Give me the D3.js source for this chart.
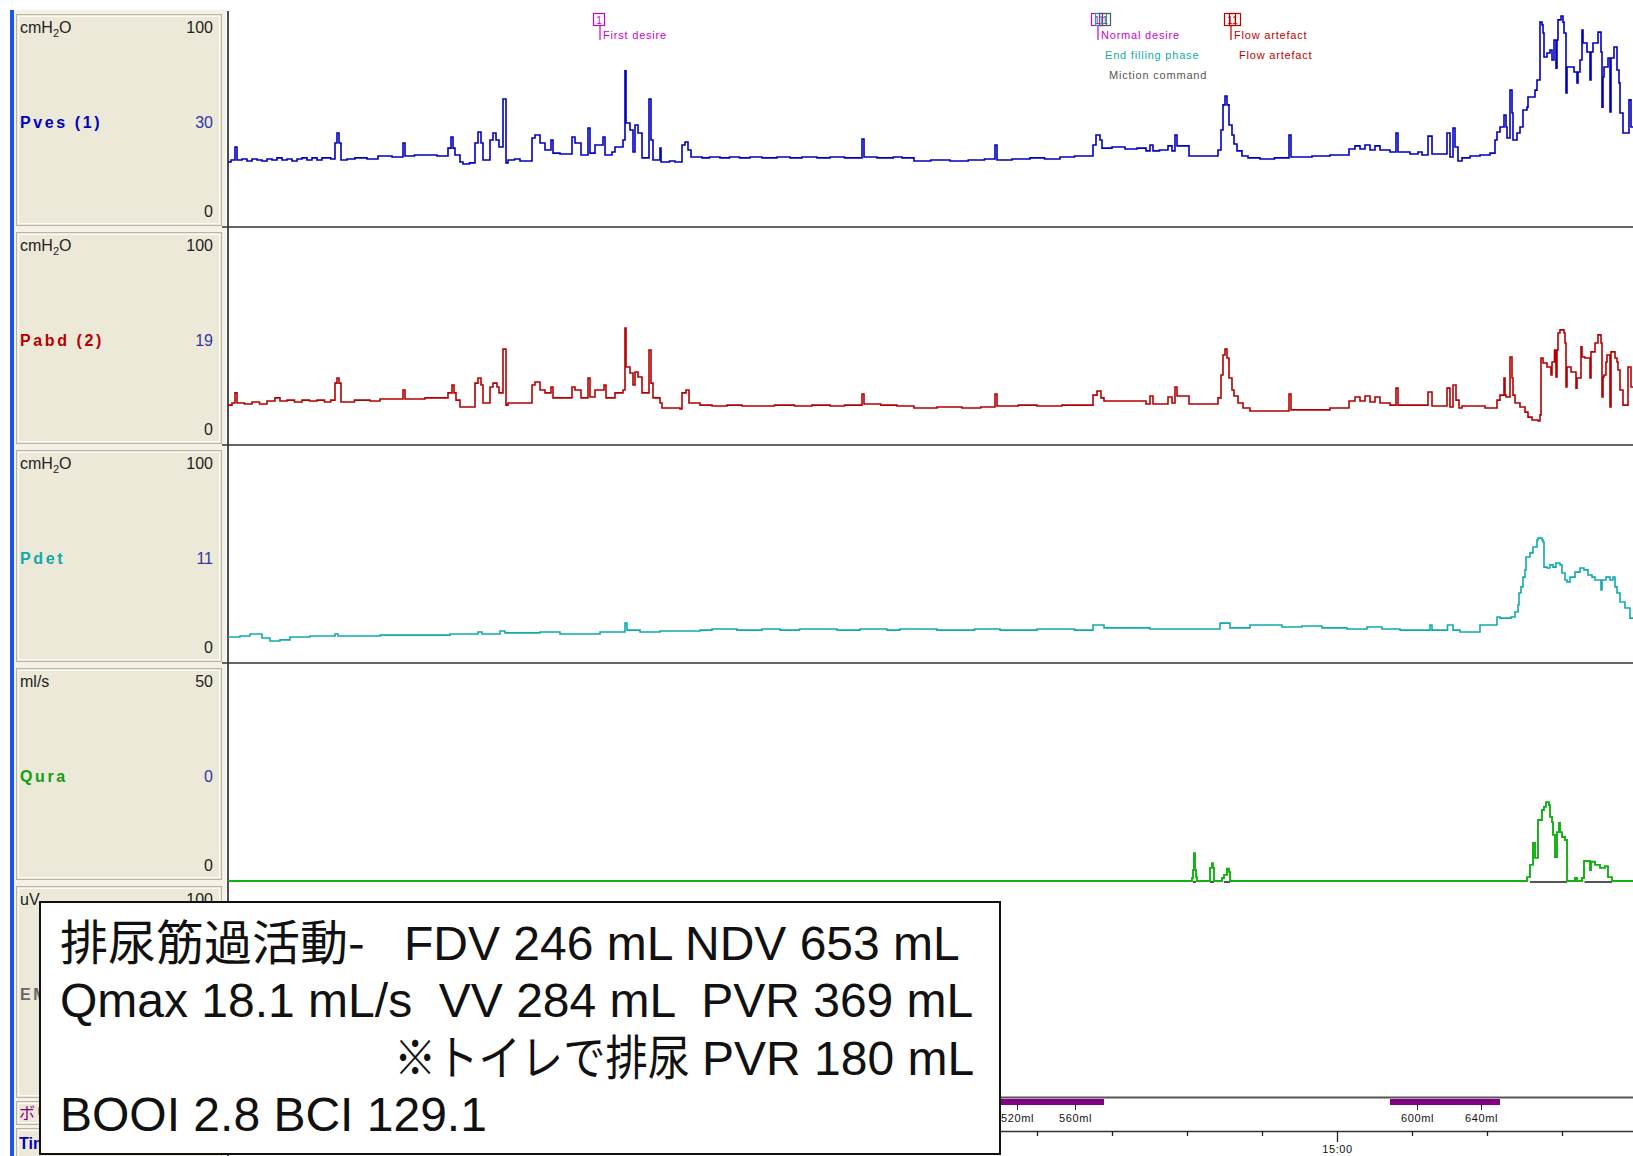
<!DOCTYPE html>
<html>
<head>
<meta charset="utf-8">
<script src="https://cdn.jsdelivr.net/npm/d3@7"></script>
<style>
  body { margin: 0; background: #fff; }
  svg { display: block; }
  text { font-family: "Liberation Sans", Arial, sans-serif; }
</style>
</head>
<body>
<svg id="chart" width="1633" height="1156"></svg>
<script>
// ---- channel metadata ----
const channelNames   = ["Pves (1)", "Pabd (2)", "Pdet", "Qura", "EMG"];
const channelUnits   = ["cmH2O", "cmH2O", "cmH2O", "ml/s", "uV"];
const channelMax     = [100, 100, 100, 50, 100];
const channelCurrent = ["30", "19", "11", "0", ""];

// ---- traces: [seconds after 14:45:00, value] ----
const pves = [
  [12.8,29.8],[15.2,30.7],[18.4,36.7],[20,30.7],[24,31.2],[28,30.3],[32,31.2],[36,30.7],[40,30.3],[44,31.2],
  [48,30.7],[52,31.7],[56,30.7],[60,31.2],[64,30.3],[68,31.2],[72,31.7],[76,30.7],[80,31.7],[84,30.7],[88,31.7],[95,31.2],
  [98.4,38.5],[100,43.1],[101.6,38.5],[103.2,30.7],[108,31.2],[114.4,31.7],[124,31.2],[132.8,32.6],[144,32.1],
  [152.8,38.5],[154.4,32.6],[162,33.0],[170.4,33.0],[180,32.6],
  [188.8,36.2],[191.2,41.3],[192.8,36.2],[194.4,33.0],[198.4,29.8],[200.8,28.9],[206,29.4],
  [210.4,38.5],[212.8,43.6],[215.2,38.5],[216.8,30.7],[222.4,39.9],[224.8,43.1],[227.2,39.9],[229.6,36.7],
  [232.8,58.7],[235.2,29.4],[236.8,30.7],[242,31.2],[246.4,30.3],
  [256,40.8],[258.4,42.2],[262.4,38.5],[266.4,35.3],[271.2,39.9],[272.8,33.9],[278.4,33.5],
  [288,41.3],[290.4,38.5],[295.2,33.0],[300.8,45.4],[302.4,33.9],[306.4,37.6],[312.8,41.3],[314.4,33.0],
  [320,34.4],[322.4,36.7],[328.8,39.9],[330.4,71.6],[331.2,47.7],[334.4,44.5],[336.8,34.4],[338.4,46.8],
  [340.8,43.1],[344,31.7],[349.6,58.7],[351.2,39.9],[352.8,30.7],[358.4,36.2],[359.2,29.8],[366,30.3],
  [370.4,29.8],[376,37.6],[378.4,39.0],[380.8,35.3],[383.2,32.1],
  [392,31.7],[398,32.1],[406.4,31.7],[414,32.1],[422,31.7],[430.4,32.1],[440,31.7],[452,32.1],[462.4,31.7],
  [472,32.1],[484,31.7],[494.4,32.1],[506,31.7],[520,40.4],[521.6,32.1],[532,31.7],[545,32.1],[552,31.7],
  [561.6,30.3],[575,30.7],[590.4,30.3],[605,30.7],[618,31.2],[626.4,37.6],[628,30.7],[640,31.2],[654.4,31.7],
  [666,31.2],[678.4,32.1],[690,32.6],[702.4,32.6],
  [704.8,37.6],[707.2,42.2],[710.4,39.9],[712,36.2],[720,36.7],[730.4,35.8],[740,36.2],[747.2,34.9],
  [750.4,37.6],[752.8,34.9],[758,35.3],[764.8,37.2],[768,34.9],[770.4,42.2],[772,37.2],[781.6,32.6],
  [795,32.6],[804.8,35.3],[807.2,44.5],[808.8,56.0],[810.4,60.1],[812,56.0],[813.6,46.8],[816,42.2],
  [817.6,38.1],[820,34.9],[824,32.6],[828.8,31.7],[838.4,31.2],[850,31.7],[861.6,42.2],[863.2,32.1],
  [880,32.6],[894.4,33.0],[909.6,35.8],[914.4,37.2],[918.4,35.8],[922.4,37.6],[926.4,35.3],[930.4,37.2],
  [934.4,35.3],[942.4,34.4],[947.2,43.1],[948.8,34.4],[958.4,33.5],[964.8,34.4],[968,33.0],[972.8,41.7],
  [976,33.5],[988,43.1],[990.4,32.1],[992.8,45.4],[994.4,36.7],[996.8,30.3],[1000,31.7],[1006.4,32.6],
  [1014.4,33.0],[1022.4,33.9],[1026.4,39.9],[1028,43.6],[1030.4,45.9],[1033.6,51.4],[1035.2,45.9],
  [1036,40.8],[1038.4,62.8],[1040,52.3],[1040.8,39.9],[1044,43.1],[1046.4,45.9],[1048.8,53.7],[1052,55.0],
  [1052.8,59.6],[1058.4,62.8],[1060,67.4],[1062.4,94.0],[1064,92.7],[1064.8,89.0],[1065.6,78.0],
  [1068,79.8],[1070.4,81.2],[1072,76.6],[1073.6,85.8],[1075.2,72.9],[1076,85.8],[1076.8,95.0],
  [1079.2,96.8],[1080.8,94.0],[1081.6,89.0],[1083.2,61.5],[1084,73.4],[1089.6,71.1],[1092,66.1],
  [1092.8,71.1],[1094.4,76.6],[1096,90.4],[1096.8,84.4],[1100,80.3],[1102.4,67.4],[1103.2,80.3],
  [1104.8,84.4],[1108.8,89.4],[1111.2,80.3],[1112,55.0],[1112.8,68.8],[1113.6,73.4],[1116.8,77.5],
  [1118.4,52.8],[1119.2,77.5],[1121.6,82.6],[1124,72.0],[1125.6,66.1],[1126.4,52.3],[1128.8,43.1],
  [1133.6,58.3],[1135.2,45.9],[1136.8,45.9]
];

const pabd = [
  [12.8,18.3],[16,19.3],[18.4,23.9],[20,19.3],[26,18.8],[32,19.7],[38,18.8],[44,20.2],[50.4,21.6],[54.4,20.2],
  [60,20.6],[66,19.7],[72,20.6],[78,20.2],[84,20.6],[90,19.7],[95,20.6],
  [98.4,28.4],[100,30.7],[101.6,28.4],[103.2,19.7],[114,20.6],[126.4,20.2],[134.4,21.1],[152.8,25.2],
  [154.4,21.1],[170.4,21.6],[188.8,23.9],[192,27.5],[193.6,23.9],[195.2,20.6],[198.4,17.4],
  [210.4,28.4],[212.8,30.7],[215.2,27.5],[216.8,19.3],[222.4,26.6],[224.8,28.4],[228,26.6],[229.6,23.9],
  [232.8,44.0],[235.2,18.3],[236.8,19.3],[256,27.5],[258.4,28.9],[262.4,25.2],[266.4,23.9],[271.2,26.6],
  [272.8,21.6],[288,26.6],[290.4,25.2],[295.2,21.6],[300.8,30.7],[302.4,22.0],[306.4,25.2],[313.6,27.5],
  [315.2,21.6],[322.4,23.9],[328.8,25.2],[330.4,53.7],[331.2,35.8],[334.4,33.0],[336.8,27.5],[338.4,33.5],
  [340.8,31.2],[344,23.9],[349.6,43.6],[351.2,28.4],[352.8,21.6],[358.4,19.3],[360,17.0],[374.4,16.5],
  [376,23.9],[379.2,25.2],[381.6,19.3],
  [390.4,18.3],[400,17.9],[412,18.3],[424,17.9],[438.4,17.9],[450,18.3],[466,17.9],[480,18.3],[494.4,17.9],
  [506,18.3],[520,23.4],[521.6,18.8],[535,18.3],[548,17.9],[561.6,17.0],[580,17.4],[600,17.0],[615,17.4],
  [626.4,23.4],[628,17.9],[645,18.3],[660,17.9],[680,18.3],[702.4,18.3],
  [704.8,22.9],[708,24.8],[711.2,21.6],[713.6,20.2],
  [747.2,18.8],[750.4,22.5],[752.8,18.8],[764.8,22.0],[768,19.3],[770.4,26.6],[772,22.5],[781.6,18.8],
  [804.8,21.6],[807.2,32.1],[808.8,41.3],[810.4,44.0],[812,39.9],[813.6,30.7],[816,25.2],[817.6,22.5],
  [820.8,19.3],[824.8,17.0],[830.4,15.6],[860,15.6],[861.6,23.4],[863.2,16.1],[894.4,17.0],[909.6,20.2],
  [914.4,22.0],[918.4,20.2],[922.4,22.5],[926.4,19.7],[930.4,22.0],[934.4,19.3],[942.4,18.3],[947.2,26.1],
  [948.8,18.3],[972.8,24.3],[976,17.9],[988,26.1],[990.4,17.4],[992.8,27.5],[995.2,20.6],[997.6,17.0],
  [1000,17.9],[1018.4,17.0],[1028,20.6],[1030.4,22.9],[1033.6,30.7],[1034.4,22.9],[1035.2,22.0],
  [1038.4,40.4],[1040,30.7],[1040.8,22.9],[1042.4,19.3],[1046.4,17.4],[1050.4,15.1],[1052.8,12.8],
  [1056,11.5],[1060.8,11.0],[1062.4,13.8],[1063.2,39.9],[1064.8,37.6],[1068,35.8],[1071.2,32.1],
  [1072,38.1],[1074,43.6],[1075.2,31.2],[1076,43.6],[1076.8,51.4],[1078.4,52.8],[1081.6,51.4],
  [1082.4,46.8],[1083.2,26.6],[1084,35.8],[1087.2,33.5],[1091.2,26.1],[1092,30.7],[1095.2,45.0],
  [1096,40.4],[1098.4,39.9],[1102.4,30.7],[1103.2,42.7],[1106.4,46.8],[1108.8,50.5],[1111.2,46.8],
  [1112,22.0],[1112.8,31.2],[1113.6,32.1],[1115.2,38.1],[1116,41.3],[1118.4,17.4],[1119.2,42.7],
  [1122.4,39.9],[1124,38.1],[1124.8,34.4],[1126.4,25.2],[1128.8,18.3],[1132.8,35.8],[1135.2,26.6],
  [1136.8,26.6]
];

const pdet = [
  [12.8,11.9],[22.4,12.4],[30.4,13.3],[40,11.5],[46.4,10.1],[54.4,10.6],[62.4,11.9],[78.4,12.4],
  [98.4,13.3],[100.8,12.4],[134.4,12.8],[190.4,13.3],[212.8,14.2],[216,13.3],[230.4,14.7],[234.4,13.8],
  [262.4,14.2],[278.4,13.3],[310.4,14.2],[330.4,18.3],[332,15.1],[342.4,14.2],[358.4,14.7],[390.4,15.1],
  [400,15.6],[420,15.1],[440,15.6],[454.4,15.1],[470,15.6],[500,15.1],[518.4,15.6],[540,15.1],[550.4,15.6],
  [580,15.1],[610,15.6],[630.4,15.1],[660,15.6],[690,15.1],
  [704.8,17.4],[713.6,16.1],[750.4,15.6],[806.4,18.3],
  [814.4,16.1],[830.4,17.4],[856,16.5],[872,17.0],[888,16.1],[908,15.6],[924,16.5],[936,15.6],
  [950.4,15.1],[974.4,17.4],[976,15.1],[988.4,17.4],[992.8,15.1],[998.4,14.2],[1014.4,17.4],[1028,21.1],
  [1030.4,20.6],[1039.2,21.1],[1042.4,23.4],[1044.8,26.6],[1045.6,32.1],[1047.2,34.9],[1048.8,39.4],
  [1050.4,42.7],[1051.2,48.6],[1054.4,50.5],[1056.8,53.2],[1060,56.4],[1060.8,57.3],[1064,56.4],
  [1064.8,55.5],[1065.6,44.0],[1068,43.6],[1070.4,45.0],[1072.8,44.0],[1075.2,45.9],[1078.4,45.0],
  [1080,41.3],[1082.4,38.1],[1084,37.2],[1086.4,39.4],[1090.4,41.7],[1094.4,43.6],[1097.6,42.7],
  [1100.8,40.4],[1104,39.4],[1106.4,38.1],[1111.2,33.5],[1112,38.1],[1115.2,39.4],[1118.4,38.1],
  [1120.8,39.4],[1122.4,34.9],[1124,32.1],[1126.4,28.0],[1130.4,25.2],[1134.4,20.6],[1136.8,20.6]
];

const qura = [
  [12.8,0],[784,0.7],[784.8,2.5],[785.6,6.4],[786.4,2.5],[787.2,0.9],[788,0],
  [798.4,3.0],[800,4.1],[800.8,3.0],[801.6,0],[808,0.7],[809.6,1.4],[812,2.8],[813.6,2.1],[814.4,0],
  [1052,0.9],[1054.4,3.7],[1056.8,8.7],[1058.4,5.3],[1060.8,14.0],[1064,16.3],[1065.6,17.0],[1067.2,18.1],
  [1069.6,17.4],[1070.4,14.7],[1072,13.5],[1072.8,10.6],[1074.4,5.5],[1076,11.2],[1077.6,13.3],[1078.4,11.2],
  [1080,10.1],[1082.4,9.4],[1084,0],[1090.4,0.7],[1092,0],[1096,0.7],[1097.6,4.6],[1102.4,2.5],
  [1103.2,4.4],[1106.4,3.7],[1110.4,3.0],[1114.4,3.4],[1116.8,0.9],[1120,0],[1136.8,0]
];

// intervals where flow was detected
const flowPeriods = [[784.8,787.2],[798.4,801.6],[809.6,814.4],[1054.4,1084],[1098,1120]];

// ---- event markers ----
const eventTimes  = [310.4, 708.8, 712, 715.2, 815.2, 819.2];
const eventLabels = ["First desire", "Normal desire", "End filling phase", "Miction command", "Flow artefact", "Flow artefact"];
const eventKinds  = ["desire", "desire", "endfill", "miction", "artefact", "artefact"];

// ---- infusion volume and time axis ----
const volumeTickTimes  = [644, 690.4, 964, 1015.2];
const volumeTickLabels = ["520ml", "560ml", "600ml", "640ml"];
const infusionPeriods  = [[480, 713.6], [942.4, 1030.4]];
const timeTickStep = 60;          // seconds between minor ticks
const timeLabelStep = 300;        // seconds between labelled ticks
const clockStart = [14, 45];      // clock time at t = 0

// ---- summary note ----
const noteLines = [
  ["排尿筋過活動-", "FDV 246 mL NDV 653 mL"],
  ["Qmax 18.1 mL/s  VV 284 mL  PVR 369 mL"],
  ["※トイレで排尿", "PVR 180 mL"],
  ["BOOI 2.8 BCI 129.1"]
];

// ================= drawing =================
const svg = d3.select("#chart");
const plotLeft = 228, plotRight = 1633;
const rowTop0 = 9, rowH = 218;
const traceColors = ["#0000BE", "#B40000", "#10AAAA", "#12B012"];
const traceWidths = [1.6, 1.6, 1.6, 1.9];
const nameColors  = ["#0000BE", "#B40000", "#10AAAA", "#10A010", "#666666"];
const kindColors  = { desire: "#CC00CC", endfill: "#10AAAA", miction: "#555555", artefact: "#C00000" };

const x = d3.scaleLinear().domain([12.8, 1136.8]).range([plotLeft, plotRight]);
const rowY = channelMax.map((m, i) =>
  d3.scaleLinear().domain([0, m]).range([rowTop0 + rowH * (i + 1), rowTop0 + rowH * i]));

// left label column
svg.append("rect").attr("x", 14).attr("y", 10).attr("width", 212).attr("height", 1146).attr("fill", "#F3F1E8");
svg.append("rect").attr("x", 10).attr("y", 10).attr("width", 4).attr("height", 1146).attr("fill", "#1A55F0");

function panel(y, h) {
  svg.append("rect").attr("x", 16.5).attr("y", y + 0.5).attr("width", 205).attr("height", h)
    .attr("fill", "#ECE9D8").attr("stroke", "#B9B5A5");
  svg.append("rect").attr("x", 18.5).attr("y", y + 2.5).attr("width", 201).attr("height", h - 4)
    .attr("fill", "none").attr("stroke", "#FBFAF5");
}

channelNames.forEach((name, i) => {
  const top = rowTop0 + rowH * i;
  panel(top + 5, 211);
  const u = svg.append("text").attr("x", 20).attr("y", top + 24).attr("font-size", 16).attr("fill", "#222");
  if (channelUnits[i] === "cmH2O") {
    u.append("tspan").text("cmH");
    u.append("tspan").attr("font-size", 11).attr("dy", 4).text("2");
    u.append("tspan").attr("dy", -4).text("O");
  } else {
    u.text(channelUnits[i]);
  }
  svg.append("text").attr("x", 213).attr("y", top + 24).attr("text-anchor", "end")
    .attr("font-size", 16).attr("fill", "#222").text(channelMax[i]);
  svg.append("text").attr("x", 20).attr("y", top + 119).attr("font-size", 16).attr("font-weight", "bold")
    .attr("letter-spacing", 2.6).attr("fill", nameColors[i]).text(name);
  svg.append("text").attr("x", 213).attr("y", top + 119).attr("text-anchor", "end")
    .attr("font-size", 16).attr("fill", "#3434A8").text(channelCurrent[i]);
  svg.append("text").attr("x", 213).attr("y", top + 208).attr("text-anchor", "end")
    .attr("font-size", 16).attr("fill", "#222").text("0");
});

panel(1101, 23);
svg.append("text").attr("x", 19).attr("y", 1119).attr("font-size", 16).attr("fill", "#800080")
  .style("font-family", "'Noto Sans CJK JP', sans-serif").text("ボリューム");
panel(1128, 30);
svg.append("text").attr("x", 19).attr("y", 1149).attr("font-size", 16).attr("font-weight", "bold")
  .attr("fill", "#0000BE").text("Time");

// plot frame
svg.append("line").attr("x1", plotLeft).attr("x2", plotLeft).attr("y1", 11).attr("y2", 1156)
  .attr("stroke", "#111").attr("stroke-width", 1.5);
[0, 1, 2].forEach(i => {
  const y = rowTop0 + rowH * (i + 1);
  svg.append("line").attr("x1", 222).attr("x2", plotRight).attr("y1", y).attr("y2", y)
    .attr("stroke", "#333").attr("stroke-width", 1.6);
});
svg.append("line").attr("x1", plotLeft).attr("x2", plotRight).attr("y1", 1097.5).attr("y2", 1097.5)
  .attr("stroke", "#555").attr("stroke-width", 2);

// flow detection marks on the Qura baseline
svg.append("g").selectAll("line").data(flowPeriods).join("line")
  .attr("x1", d => x(d[0])).attr("x2", d => x(d[1]))
  .attr("y1", rowY[3](0) + 1).attr("y2", rowY[3](0) + 1)
  .attr("stroke", "#555").attr("stroke-width", 2);

// traces
[pves, pabd, pdet, qura].forEach((data, i) => {
  const line = d3.line().x(d => x(d[0])).y(d => rowY[i](d[1])).curve(d3.curveStepAfter);
  svg.append("path").datum(data).attr("d", line).attr("fill", "none")
    .attr("stroke", traceColors[i]).attr("stroke-width", traceWidths[i]).attr("stroke-linejoin", "miter");
});

// event markers
let lastT = -1e9, level = 0;
eventTimes.forEach((t, i) => {
  level = (t - lastT < 10) ? level + 1 : 0;
  lastT = (level === 0) ? t : lastT;
  const mx = x(t), col = kindColors[eventKinds[i]];
  const g = svg.append("g");
  g.append("rect").attr("x", mx - 6.5).attr("y", 13.5).attr("width", 11).attr("height", 12)
    .attr("fill", "none").attr("stroke", col).attr("stroke-width", 1.2);
  g.append("text").attr("x", mx - 1).attr("y", 23.5).attr("text-anchor", "middle")
    .attr("font-size", 10).attr("fill", col).text("1");
  if (level === 0) {
    g.append("line").attr("x1", mx).attr("x2", mx).attr("y1", 25.5).attr("y2", 40)
      .attr("stroke", col).attr("stroke-width", 1.2);
  }
  g.append("text").attr("x", mx + 3).attr("y", 39 + 20 * level).attr("font-size", 11)
    .attr("letter-spacing", 0.8).attr("fill", col).text(eventLabels[i]);
});

// infusion periods
svg.append("g").selectAll("rect").data(infusionPeriods).join("rect")
  .attr("x", d => x(d[0])).attr("width", d => x(d[1]) - x(d[0]))
  .attr("y", 1099).attr("height", 6).attr("fill", "#820082");

// infused volume axis
const volAxis = d3.axisBottom(x).tickValues(volumeTickTimes)
  .tickFormat((d, i) => volumeTickLabels[i]).tickSize(5).tickPadding(4).tickSizeOuter(0);
const vg = svg.append("g").attr("transform", "translate(0,1105)").call(volAxis);
vg.select(".domain").remove();
vg.selectAll("line").attr("stroke", "#222");
vg.selectAll("text").attr("font-size", 11).attr("letter-spacing", 0.6).attr("fill", "#111")
  .style("font-family", "'Liberation Sans', Arial, sans-serif");

// clock axis
const clockLabel = t => {
  const m = clockStart[0] * 60 + clockStart[1] + Math.round(t / 60);
  return `${Math.floor(m / 60)}:${String(m % 60).padStart(2, "0")}`;
};
const timeAxis = d3.axisBottom(x)
  .tickValues(d3.range(timeTickStep, 1137, timeTickStep))
  .tickFormat(t => t % timeLabelStep === 0 ? clockLabel(t) : "")
  .tickSize(5).tickPadding(7).tickSizeOuter(0);
const tg = svg.append("g").attr("transform", "translate(0,1131)").call(timeAxis);
tg.select(".domain").attr("stroke", "#333").attr("stroke-width", 1.5);
tg.selectAll(".tick line").attr("stroke", "#222").attr("stroke-width", 1.3)
  .attr("y2", d => d % timeLabelStep === 0 ? 11 : 5);
tg.selectAll("text").attr("font-size", 11).attr("letter-spacing", 0.6).attr("fill", "#111")
  .attr("y", 14).style("font-family", "'Liberation Sans', Arial, sans-serif");

// summary note
const note = svg.append("g");
note.append("rect").attr("x", 40).attr("y", 902).attr("width", 960).attr("height", 252)
  .attr("fill", "#fff").attr("stroke", "#111").attr("stroke-width", 2);
const noteBase = [960, 1017, 1075, 1131];
const noteX = [[60, 404], [60], [394, 702], [60]];
const cjkFont = "'Noto Sans CJK JP', 'Liberation Sans', sans-serif";
noteLines.forEach((segs, li) => {
  segs.forEach((s, si) => {
    const t = note.append("text").attr("x", noteX[li][si]).attr("y", noteBase[li])
      .attr("font-size", 48).attr("fill", "#111").style("white-space", "pre").text(s);
    if (/[\u3000-\u9fff※]/.test(s)) {
      t.style("font-family", cjkFont);
      if (li === 2) t.attr("textLength", 296).attr("lengthAdjust", "spacingAndGlyphs");
    }
  });
});
</script>
</body>
</html>
